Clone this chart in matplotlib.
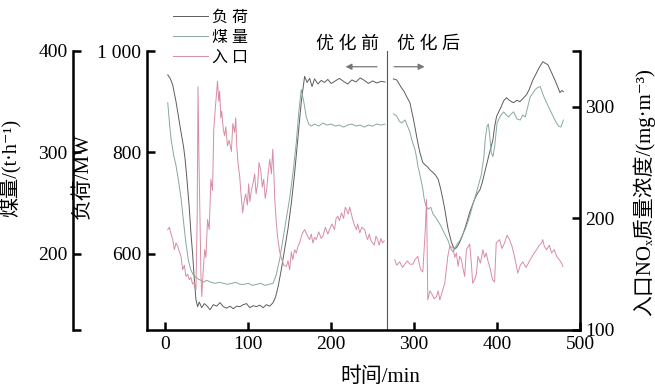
import matplotlib
matplotlib.use('Agg')
import matplotlib.pyplot as plt

plt.rcParams['font.family'] = ['Liberation Serif', 'Noto Sans CJK SC', 'DejaVu Sans']

# 优化前 (before) segment
t_load_a = [3, 6, 9, 13, 16, 19, 22, 24, 26, 29, 31, 33, 35, 37, 39, 41, 44, 47, 50, 54, 58, 62, 66, 70,
            74, 78, 82, 86, 90, 94, 98, 102, 106, 110, 114, 118, 122, 126, 130, 133, 136, 140, 144, 148,
            152, 156, 160, 164, 168, 171, 174, 177, 180, 184, 188, 192, 196, 200, 205, 210, 215, 220,
            225, 230, 235, 240, 245, 250, 255, 260, 265]
load_a = [953, 946, 933, 900, 870, 840, 812, 786, 750, 690, 640, 600, 550, 510, 496, 505, 494, 502, 498,
          490, 500, 497, 504, 496, 493, 497, 492, 497, 496, 500, 502, 494, 498, 496, 499, 494, 500, 497,
          504, 515, 535, 570, 610, 650, 700, 760, 830, 900, 950, 938, 946, 930, 945, 935, 942, 938, 944,
          936, 941, 946, 940, 935, 943, 939, 947, 942, 936, 941, 937, 940, 939]

t_coal_a = [3, 5, 7, 10, 13, 16, 19, 22, 25, 28, 31, 34, 37, 40, 43, 46, 50, 55, 60, 65, 70, 75, 80, 85,
            90, 95, 100, 105, 110, 115, 120, 125, 130, 134, 138, 142, 146, 150, 154, 158, 161, 164, 167,
            170, 173, 176, 180, 185, 190, 195, 200, 205, 210, 215, 220, 225, 230, 235, 240, 245, 250, 255,
            260, 265]
coal_a = [349, 330, 313, 298, 287, 272, 255, 232, 210, 193, 184, 179, 177, 175, 174, 172, 174, 172, 171,
          172, 171, 170, 171, 172, 170, 170, 171, 169, 170, 171, 169, 170, 171, 180, 195, 215, 235, 255,
          280, 310, 340, 362, 350, 335, 328, 326, 328, 326, 329, 327, 328, 326, 327, 325, 327, 328, 326,
          327, 325, 327, 326, 328, 327, 328]

t_nox_a = [3, 5, 7, 9, 11, 13, 15, 17, 19, 21, 23, 25, 27, 29, 31, 33, 35, 37, 38.5, 39.5, 40.5, 41.5, 43,
           44, 45.5, 47.5, 49, 51, 53, 55, 57, 58.5, 60.5, 63, 64.5, 65.6, 67, 68, 70, 71.5, 73, 75, 77,
           79.7, 81.5, 83.7, 85, 86, 87.3, 88.5, 89.7, 91.5, 93.4, 95, 97, 99, 100.6, 102, 104, 106,
           107.8, 109.5, 111.5, 113, 115, 117, 118.7, 120.5, 122.3, 124, 126, 128, 129.6, 131, 132, 134,
           135.8, 138, 140.6, 143, 146, 148, 150, 152, 153.7, 156, 158, 160, 162, 165, 168, 171, 174, 176,
           178, 180, 182, 185, 188, 190, 193, 196, 198, 201, 204, 206, 208, 210, 212.4, 215, 217, 218.5,
           220.5, 222.5, 224, 226, 228, 230.5, 232, 234.5, 237, 240.5, 242, 244, 246, 248, 250, 252, 254,
           256, 258, 260, 262, 264]
nox_a = [190, 192, 186, 181, 172, 178, 175, 170, 166, 154, 158, 148, 150, 145, 147, 141, 143, 136, 200,
         318, 260, 217, 150, 130, 150, 172, 165, 199, 190, 235, 225, 280, 300, 323, 305, 314, 290, 296, 280,
         274, 282, 265, 270, 260, 285, 277, 290, 268, 253, 245, 238, 220, 205, 215, 222, 212, 231, 215, 226,
         232, 240, 222, 231, 250, 244, 228, 235, 218, 226, 240, 253, 240, 262, 240, 217, 195, 181, 170, 163,
         158, 157, 162, 154, 170, 163, 172, 169, 175, 178, 186, 190, 185, 181, 186, 178, 183, 181, 188, 182,
         184, 192, 186, 190, 195, 190, 200, 202, 198, 205, 200, 210, 208, 204, 210, 205, 199, 194, 190, 195,
         187, 192, 190, 185, 181, 186, 180, 178, 176, 184, 181, 176, 182, 178, 180]

# 优化后 (after) segment
t_load_b = [275, 279, 282, 285, 288, 291, 295, 298.5, 301, 303, 305, 307, 310.5, 313, 316.5, 319, 322.5,
            326, 329, 331, 333, 335, 337, 339, 341, 343, 345, 347, 349, 351, 353, 355, 358, 361, 364, 367,
            370, 373, 376, 379.5, 382, 385, 388, 391, 393, 395, 397, 399.4, 402, 405, 408, 411.5, 414,
            417.5, 420, 424, 427.5, 431, 435.6, 439, 443.2, 447, 451, 455.3, 458, 461.3, 465, 469.7, 473,
            475.8, 478, 480]
load_b = [945, 943, 935, 927, 920, 910, 898, 871, 850, 832, 815, 800, 780, 776, 771, 766, 761, 755, 747,
          735, 721, 705, 688, 668, 649, 636, 623, 615, 610, 612, 617, 623, 635, 649, 665, 682, 695, 708,
          718, 727, 740, 760, 780, 800, 812, 825, 850, 871, 880, 890, 902, 908, 904, 900, 898, 903, 900,
          906, 914, 925, 943, 955, 968, 979, 976, 973, 960, 943, 930, 918, 922, 920]

t_coal_b = [275, 279, 282, 285, 289, 292.5, 295, 297, 299, 301, 303, 304.6, 306, 308, 309, 310.5, 312, 314,
            317, 320, 323, 326, 329, 332, 335, 338, 341, 343, 345, 347, 349, 352, 355, 358, 362, 365, 368,
            372, 375, 378, 381, 384, 386, 388, 389.5, 391, 393, 395, 397, 400, 404, 408, 411, 414, 417,
            420, 424, 428, 431, 434, 437, 440, 443, 446, 449, 452, 455, 458, 462, 465, 468, 471, 474, 477,
            480]
coal_b = [338, 336, 331, 329, 332, 325, 320, 313, 308, 303, 295, 286, 282, 274, 270, 264, 255, 248, 244,
          246, 239, 236, 232, 228, 223, 218, 213, 208, 204, 202, 205, 210, 213, 218, 225, 232, 240, 252,
          260, 269, 278, 295, 315, 326, 328, 318, 300, 296, 305, 329, 336, 340, 337, 335, 338, 340, 333,
          332, 337, 335, 345, 355, 358, 362, 364, 365, 358, 352, 345, 340, 335, 330, 326, 325, 332]

t_nox_b = [276.7, 279, 282.7, 286, 288.8, 292, 294.8, 298.5, 301, 304.5, 306, 308, 310.5, 313.5, 315,
           316.5, 319, 321, 324, 327, 329, 331, 334.6, 337, 340.6, 343, 346.8, 349, 351, 353, 355, 357,
           359, 361, 363, 367, 369, 370.6, 373, 375, 377, 380, 383, 385, 387, 389, 391, 394.6, 397, 399,
           403, 406, 409, 412, 415, 418, 421, 425, 428, 431, 435, 440, 444, 447.6, 451, 453.7, 455, 457,
           459.7, 463, 465.7, 469, 471.8, 475, 477.8, 479.4]
nox_b = [163, 158, 161, 156, 159, 162, 159, 159, 163, 166, 160, 154, 152, 190, 217, 127, 135, 133, 128,
         130, 135, 127, 136, 142, 166, 175, 174, 165, 169, 157, 166, 163, 155, 148, 172, 177, 160, 142,
         145, 150, 166, 160, 172, 165, 169, 162, 157, 145, 143, 178, 181, 173, 178, 185, 181, 175, 166,
         151, 158, 161, 156, 163, 168, 172, 176, 178, 181, 175, 172, 176, 169, 172, 166, 163, 160, 157]

c_load = '#5c5c5c'
c_coal = '#8aa89a'
c_nox = '#d88ca2'

fig = plt.figure(figsize=(6.55, 3.9), dpi=100)
ax = fig.add_axes([147 / 655, 60 / 390, 433 / 655, 279 / 390])
ax_coal = ax.twinx()
ax_nox = ax.twinx()

l1, = ax.plot(t_load_a, load_a, color=c_load, lw=0.7)
ax.plot(t_load_b, load_b, color=c_load, lw=0.7)
l2, = ax_coal.plot(t_coal_a, coal_a, color=c_coal, lw=0.7)
ax_coal.plot(t_coal_b, coal_b, color=c_coal, lw=0.7)
l3, = ax_nox.plot(t_nox_a, nox_a, color=c_nox, lw=0.7)
ax_nox.plot(t_nox_b, nox_b, color=c_nox, lw=0.7)

ax.set_xlim(-22, 500)
ax.set_ylim(450, 1000)
ax_coal.set_ylim(125, 400)
ax_nox.set_ylim(100, 350)

spw = 1.8
for a in (ax, ax_coal, ax_nox):
    for s in a.spines.values():
        s.set_visible(False)
        s.set_linewidth(spw)
ax.spines['left'].set_visible(True)
ax.spines['bottom'].set_visible(True)
ax_coal.spines['left'].set_visible(True)
ax_coal.spines['left'].set_position(('axes', -0.171))
ax_nox.spines['right'].set_visible(True)

ax.set_xticks([0, 100, 200, 300, 400, 500])
ax.set_yticks([600, 800, 1000])
ax.set_yticklabels(['600', '800', '1 000'])
ax_coal.yaxis.set_ticks_position('left')
ax_coal.yaxis.set_label_position('left')
ax_coal.set_yticks([125, 200, 300, 400])
ax_coal.set_yticklabels(['', '200', '300', '400'])
ax_nox.set_yticks([100, 200, 300, 350])
ax_nox.set_yticklabels(['100', '200', '300', ''])

for a in (ax, ax_coal, ax_nox):
    a.tick_params(direction='in', length=5.5, width=spw, labelsize=14, pad=4)
ax.tick_params(axis='x', pad=4.5)

ax.set_xlabel('时间/min', fontsize=15)
ax.xaxis.set_label_coords(0.538, -0.135)
ax.set_ylabel('负荷/MW', fontsize=15)
ax.yaxis.set_label_coords(-0.125, 0.55)
ax_coal.set_ylabel('煤量/(t·h⁻¹)', fontsize=14.5)
ax_coal.yaxis.set_label_coords(-0.29, 0.58)
ax_nox.set_ylabel('入口NOₓ质量浓度/(mg·m⁻³)', fontsize=15, rotation=90)
ax_nox.yaxis.set_label_coords(1.122, 0.496)

ax.axvline(267.5, color='#555555', lw=0.8)
ax.annotate('', xy=(214, 969), xytext=(258.6, 969),
            arrowprops=dict(arrowstyle='-|>', color='#777777', lw=0.9, mutation_scale=9))
ax.annotate('', xy=(316, 969), xytext=(272.5, 969),
            arrowprops=dict(arrowstyle='-|>', color='#777777', lw=0.9, mutation_scale=9))
ax.text(257.5, 1012, '优 化 前', ha='right', va='center', fontsize=13, clip_on=False)
ax.text(279, 1012, '优 化 后', ha='left', va='center', fontsize=13, clip_on=False)

fig.legend([l1, l2, l3], ['负 荷', '煤 量', '入 口'], loc='upper left',
           bbox_to_anchor=(0.25, 1.0), frameon=False, fontsize=11.5,
           handlelength=2.2, handletextpad=0.2, labelspacing=0.25, borderpad=0.1)

fig.savefig('out.png', dpi=100)
